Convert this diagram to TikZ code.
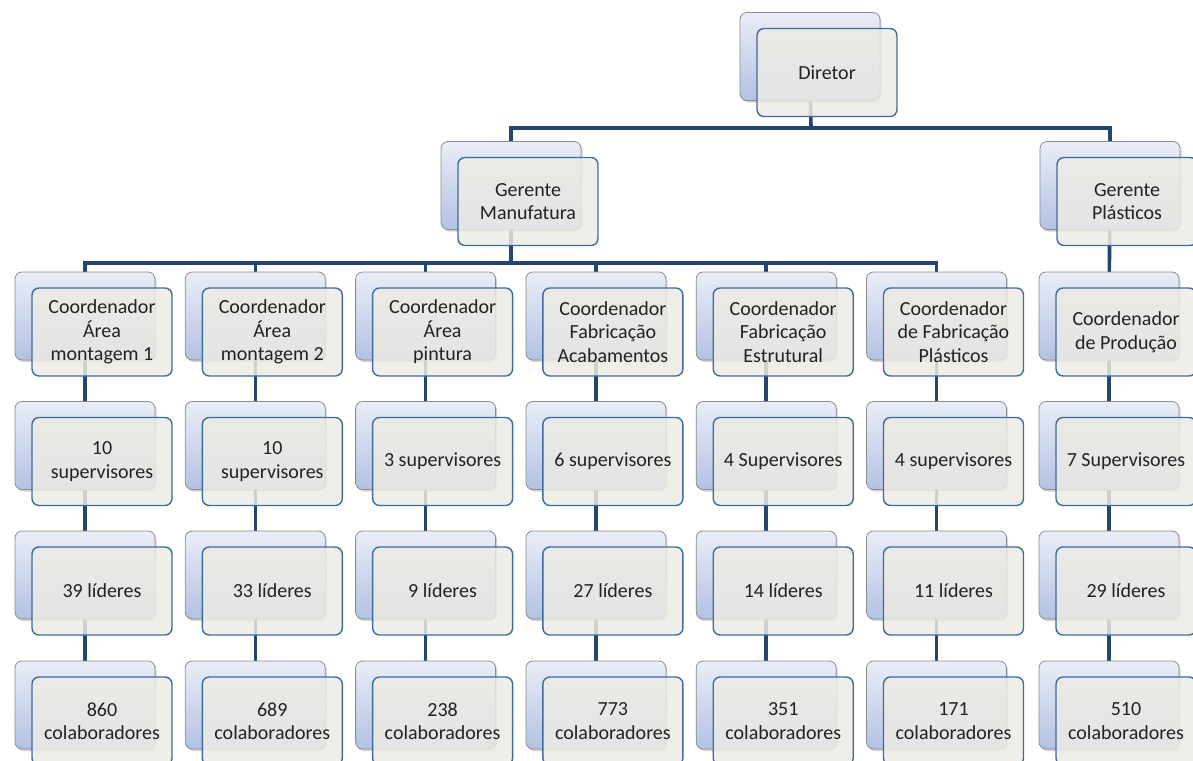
\documentclass[tikz,border=0pt]{standalone}
\usepackage{fontspec}
\setmainfont{Carlito}
\usetikzlibrary{backgrounds,shadows}

\definecolor{busline}{HTML}{234670}
\definecolor{frontfill}{HTML}{EDEBE4}
\definecolor{frontedge}{HTML}{3F6B9E}
\definecolor{backtop}{HTML}{E9EDF7}
\definecolor{backbot}{HTML}{B3C2E3}
\definecolor{backedge}{HTML}{8C8C8C}
\definecolor{txt}{HTML}{222222}

\tikzset{
  frontbox/.style={draw=frontedge, line width=1.4pt, fill=frontfill, fill opacity=0.84,
    text opacity=1, rounded corners=7pt, minimum width=140pt, minimum height=88pt,
    inner sep=0pt, align=center, text=txt,
    font=\fontsize{20}{23.5}\selectfont},
  backbox/.style={draw=backedge, line width=0.8pt, top color=backtop, bottom color=backbot,
    rounded corners=7pt, minimum width=140pt, minimum height=88pt, inner sep=0pt,
    drop shadow={shadow xshift=1.5pt, shadow yshift=-2pt, opacity=0.35}},
  link/.style={draw=busline, line width=3.6pt}
}

% front box centred at (#2,#3), its back card offset up and to the left
\newcommand{\orgcard}[4]{%
  \node[backbox] (#1B) at (#2-17,#3-16) {};
  \node[frontbox] (#1) at (#2,#3) {#4};
}

\begin{document}
\begin{tikzpicture}[x=1pt,y=-1pt]
\useasboundingbox (0,0) rectangle (1193,760);

% top levels
\orgcard{dir}{827}{72.5}{Diretor}
\orgcard{gm}{528}{201.5}{Gerente\\Manufatura}
\orgcard{gp}{1127}{201.5}{Gerente\\Plásticos}

% coordinators
\orgcard{ca}{102}{332}{Coordenador\\Área\\montagem 1}
\orgcard{cb}{272.3}{332}{Coordenador\\Área\\montagem 2}
\orgcard{cc}{442.6}{332}{Coordenador\\Área\\pintura}
\orgcard{cd}{612.9}{332}{Coordenador\\Fabricação\\Acabamentos}
\orgcard{ce}{783.2}{332}{Coordenador\\Fabricação\\Estrutural}
\orgcard{cf}{953.5}{332}{Coordenador\\de Fabricação\\Plásticos}
\orgcard{cg}{1126}{332}{Coordenador\\de Produção}

% supervisors
\orgcard{sa}{102}{461.5}{10\\supervisores}
\orgcard{sb}{272.3}{461.5}{10\\supervisores}
\orgcard{sc}{442.6}{461.5}{3 supervisores}
\orgcard{sd}{612.9}{461.5}{6 supervisores}
\orgcard{se}{783.2}{461.5}{4 Supervisores}
\orgcard{sf}{953.5}{461.5}{4 supervisores}
\orgcard{sg}{1126}{461.5}{7 Supervisores}

% leaders
\orgcard{la}{102}{591}{39 líderes}
\orgcard{lb}{272.3}{591}{33 líderes}
\orgcard{lc}{442.6}{591}{9 líderes}
\orgcard{ld}{612.9}{591}{27 líderes}
\orgcard{le}{783.2}{591}{14 líderes}
\orgcard{lf}{953.5}{591}{11 líderes}
\orgcard{lg}{1126}{591}{29 líderes}

% staff
\orgcard{ka}{102}{721}{860\\colaboradores}
\orgcard{kb}{272.3}{721}{689\\colaboradores}
\orgcard{kc}{442.6}{721}{238\\colaboradores}
\orgcard{kd}{612.9}{721}{773\\colaboradores}
\orgcard{ke}{783.2}{721}{351\\colaboradores}
\orgcard{kf}{953.5}{721}{171\\colaboradores}
\orgcard{kg}{1126}{721}{510\\colaboradores}

\coordinate (busA) at (811,128);
\coordinate (busB) at (511,263);

\begin{scope}[on background layer]
  \draw[link] (dirB.center) -- (busA);
  \draw[link] (gmB.center) |- (busA) -| (gpB.center);
  \draw[link] (gmB.center) -- (busB);
  \draw[link] (caB.center) |- (busB) -| (cfB.center);
  \foreach \c in {cb,cc,cd,ce}
    \draw[link] (\c B.center) -- (\c B.center |- busB);
  \draw[link] (gpB.center) -- (cgB.center);
  \foreach \c/\s/\l/\k in {ca/sa/la/ka, cb/sb/lb/kb, cc/sc/lc/kc, cd/sd/ld/kd,
                          ce/se/le/ke, cf/sf/lf/kf, cg/sg/lg/kg} {
    \draw[link] (\c B.center) -- (\s B.center);
    \draw[link] (\s B.center) -- (\l B.center);
    \draw[link] (\l B.center) -- (\k B.center);
  }
\end{scope}
\end{tikzpicture}
\end{document}
